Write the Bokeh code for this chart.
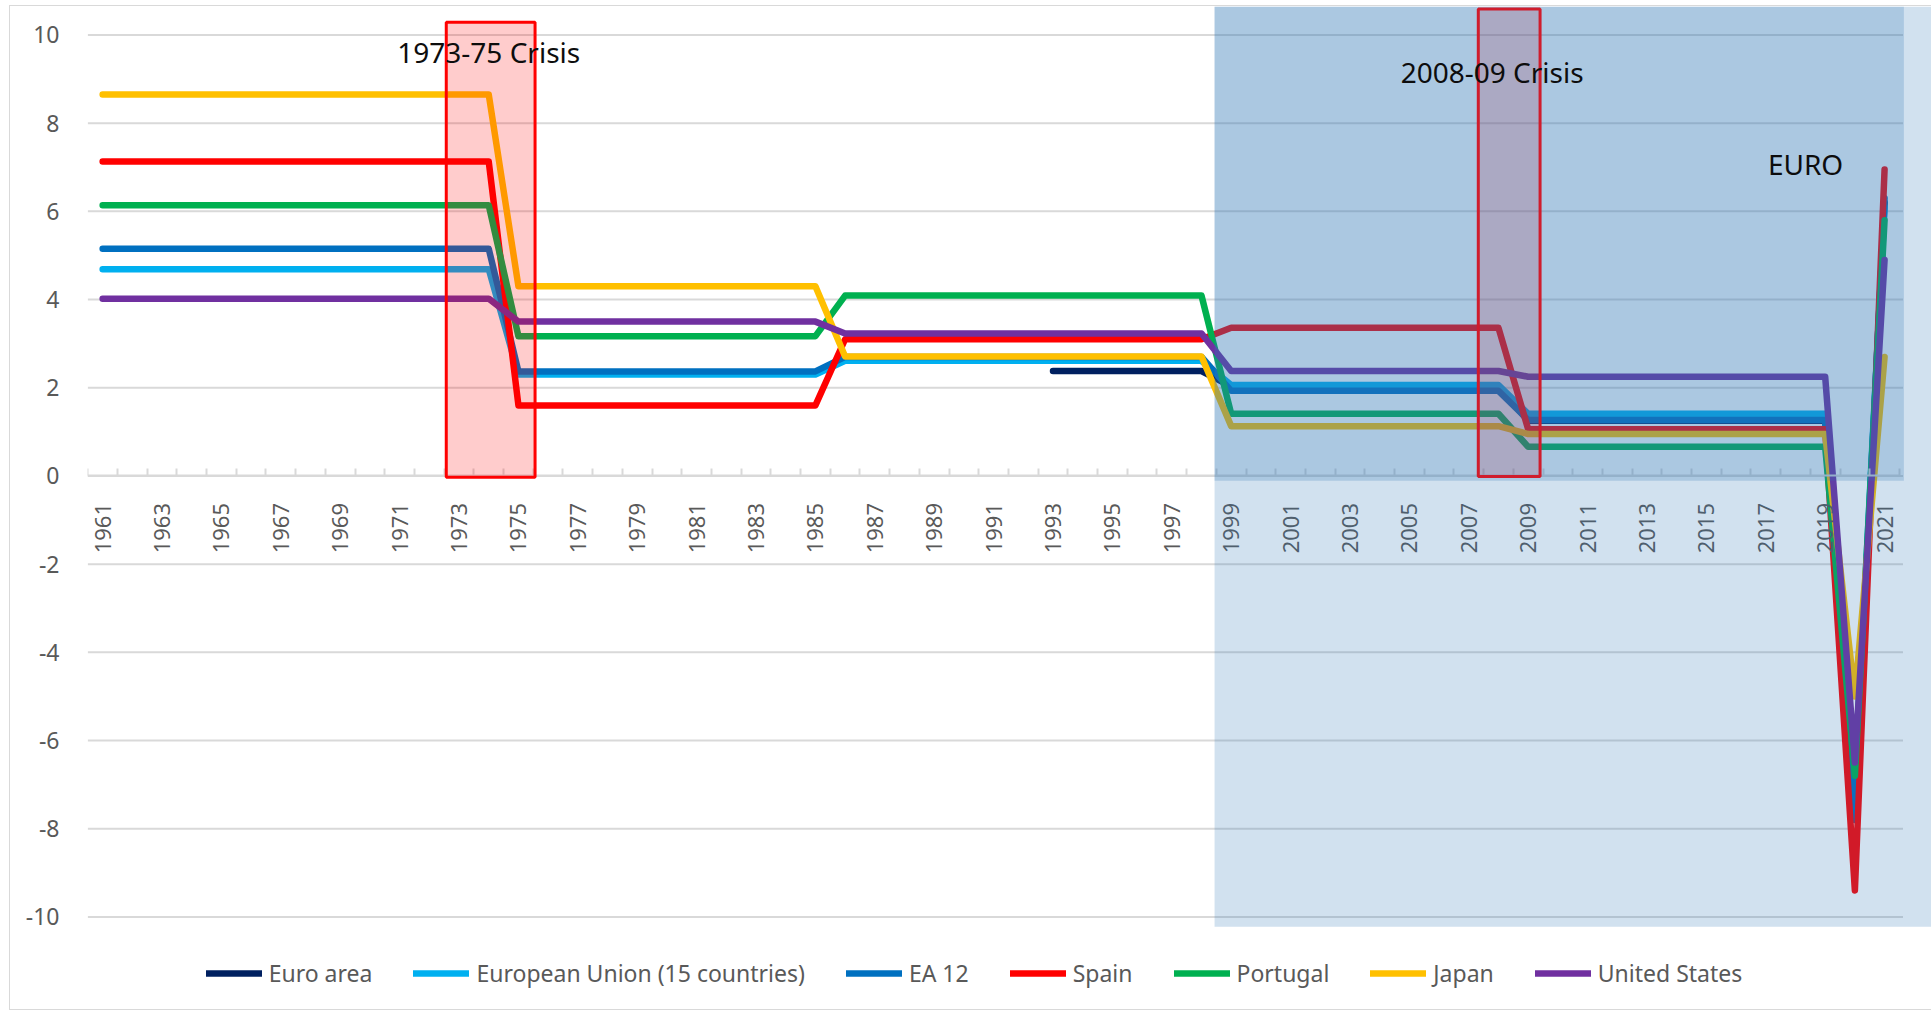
import math
from bokeh.plotting import figure
from bokeh.models import BoxAnnotation, Label, FixedTicker, Range1d, InlineStyleSheet
from bokeh.embed import file_html
from bokeh.resources import INLINE

nan = float("nan")

# ---------------- data ----------------
years = list(range(1961, 2022))
# period averages: 1961-74 (14), 1975-85 (11), 1986-98 (13), 1999-2008 (10), 2009-19 (11), 2020, 2021
euro_area = [nan] * 32 + [2.38] * 6 + [2.03] * 10 + [1.25] * 11 + [-7.4] + [6.2]
eu15 = [4.69] * 14 + [2.30] * 11 + [2.61] * 13 + [2.06] * 10 + [1.41] * 11 + [-7.0] + [6.1]
ea12 = [5.15] * 14 + [2.37] * 11 + [2.70] * 13 + [1.93] * 10 + [1.27] * 11 + [-7.8] + [6.3]
spain = [7.13] * 14 + [1.60] * 11 + [3.10] * 13 + [3.36] * 10 + [1.06] * 11 + [-9.4] + [6.95]
portugal = [6.14] * 14 + [3.17] * 11 + [4.09] * 13 + [1.41] * 10 + [0.66] * 11 + [-6.8] + [5.8]
japan = [8.65] * 14 + [4.30] * 11 + [2.71] * 13 + [1.13] * 10 + [0.95] * 11 + [-5.0] + [2.7]
usa = [4.02] * 14 + [3.50] * 11 + [3.23] * 13 + [2.38] * 10 + [2.25] * 11 + [-6.5] + [4.9]

series_names = ["Euro area", "European Union (15 countries)", "EA 12", "Spain",
                "Portugal", "Japan", "United States"]
series_values = [euro_area, eu15, ea12, spain, portugal, japan, usa]
series_colors = ["#002060", "#00B0F0", "#0070C0", "#FF0000", "#00B050", "#FFC000", "#7030A0"]

y_ticks = [-10, -8, -6, -4, -2, 0, 2, 4, 6, 8, 10]
x_label_years = list(range(1961, 2022, 2))
x_minor = [y - 0.5 for y in range(1961, 2023)]

FONT = "Noto Sans"
GREY_TXT = "#595959"
GRID = "#D9D9D9"

border_css = InlineStyleSheet(css="""
:host { position: relative; }
:host::after {
  content: ""; position: absolute; left: 9px; top: 5px; right: 0px; bottom: 3px;
  border: 1px solid #D9D9D9; border-right: none; pointer-events: none;
}
""")

p = figure(width=1931, height=1013,
           x_range=Range1d(1960.49, 2022.58), y_range=Range1d(-12.19, 10.646),
           output_backend="svg", toolbar_location=None,
           min_border_left=87, min_border_right=0, min_border_top=6, min_border_bottom=0,
           stylesheets=[border_css])
p.outline_line_color = None
p.xgrid.visible = False
p.ygrid.visible = False

# gridlines (limited to the category span)
p.segment(x0=[1960.5] * len(y_ticks), x1=[2021.62] * len(y_ticks), y0=y_ticks, y1=y_ticks,
          line_color=GRID, line_width=2)

# series
for name, vals, col in zip(series_names, series_values, series_colors):
    p.line(years, vals, line_color=col, line_width=6.5, line_join="round", line_cap="round",
           legend_label=name)

# 1973-75 crisis box
p.add_layout(BoxAnnotation(left=1972.57, right=1975.56, bottom=-0.03, top=10.29,
                           fill_color="#FF0000", fill_alpha=0.2,
                           line_color="#FF0000", line_alpha=1, line_width=3))
# 2008-09 crisis box fill (under euro shading)
p.add_layout(BoxAnnotation(left=2007.32, right=2009.40, bottom=-0.01, top=10.59,
                           fill_color="#FF0000", fill_alpha=0.2, line_alpha=0))
# euro shading
p.add_layout(BoxAnnotation(left=1998.44, bottom=-10.22,
                           fill_color="#2E75B6", fill_alpha=0.22, line_alpha=0))
p.add_layout(BoxAnnotation(left=1998.44, right=2021.65, bottom=-0.11,
                           fill_color="#2E75B6", fill_alpha=0.23, line_alpha=0))
# 2008-09 crisis box border
p.add_layout(BoxAnnotation(left=2007.32, right=2009.40, bottom=-0.01, top=10.59,
                           fill_alpha=0, line_color="#D01C2C", line_alpha=1, line_width=3))

for txt, xx, yy in [("1973-75 Crisis", 1974.0, 9.62),
                    ("2008-09  Crisis", 2007.91, 9.16),
                    ("EURO", 2018.34, 7.08)]:
    p.add_layout(Label(x=xx, y=yy, text=txt, text_align="center", text_baseline="alphabetic",
                       text_font=FONT, text_font_size="28px", text_color="#0D0D0D"))

# x axis at y = 0
xa = p.xaxis[0]
xa.fixed_location = 0
xa.bounds = (1960.5, 2021.5)
xa.ticker = FixedTicker(ticks=x_label_years, minor_ticks=x_minor)
xa.axis_line_color = GRID
xa.axis_line_width = 2
xa.major_tick_in = 0
xa.major_tick_out = 0
xa.minor_tick_in = 7
xa.minor_tick_out = 0
xa.minor_tick_line_color = GRID
xa.minor_tick_line_width = 2
xa.major_label_orientation = math.pi / 2
xa.major_label_standoff = 27
xa.major_label_text_font = FONT
xa.major_label_text_font_size = "22px"
xa.major_label_text_color = GREY_TXT

ya = p.yaxis[0]
ya.ticker = FixedTicker(ticks=y_ticks)
ya.major_label_overrides = {v: str(v) for v in y_ticks}
ya.axis_line_color = None
ya.major_tick_line_color = None
ya.minor_tick_line_color = None
ya.major_label_standoff = 22
ya.major_label_text_font = FONT
ya.major_label_text_font_size = "23px"
ya.major_label_text_color = GREY_TXT

lg = p.legend[0]
lg.orientation = "horizontal"
lg.location = (118.7, 24)
lg.label_text_font = FONT
lg.label_text_font_size = "23px"
lg.label_text_color = GREY_TXT
lg.glyph_width = 56
lg.glyph_height = 20
lg.label_standoff = 7
lg.spacing = 41
lg.padding = 0
lg.margin = 0
lg.background_fill_alpha = 0
lg.border_line_alpha = 0

open("out.html", "w").write(file_html(p, INLINE))
